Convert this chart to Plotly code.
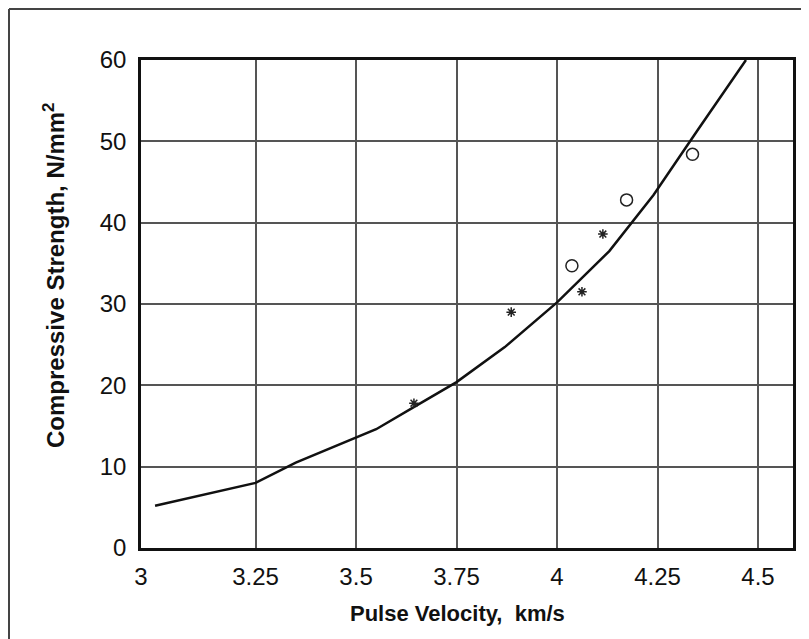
import plotly.graph_objects as go

# Fitted curve
curve_x = [3.0, 3.25, 3.35, 3.55, 3.65, 3.75, 3.87, 4.0, 4.13, 4.24, 4.35, 4.47]
curve_y = [5.2, 8.0, 10.5, 14.6, 17.5, 20.4, 24.7, 30.2, 36.5, 43.4, 51.4, 60.0]

# Data points: asterisks
star_x = [3.644, 3.886, 4.062, 4.114]
star_y = [17.8, 29.0, 31.5, 38.6]

# Data points: open circles
circ_x = [4.037, 4.173, 4.337]
circ_y = [34.7, 42.8, 48.4]

x_tick_vals = [3.25, 3.5, 3.75, 4.0, 4.25, 4.5]
x_tick_text = ["3.25", "3.5", "3.75", "4", "4.25", "4.5"]
x_first_label = "3"
y_tick_vals = [0, 10, 20, 30, 40, 50, 60]

x_range = [2.965, 4.587]
y_range = [0, 60]

W, H = 801, 631
L, R, T, B = 133, 16, 52, 91
PW, PH = W - L - R, H - T - B

fig = go.Figure()
fig.add_trace(go.Scatter(x=curve_x, y=curve_y, mode="lines",
                         line=dict(color="#111111", width=2.5), showlegend=False))
fig.add_trace(go.Scatter(x=star_x, y=star_y, mode="markers",
                         marker=dict(symbol="asterisk-open", size=8, color="#222222",
                                     line=dict(color="#222222", width=1.5)),
                         showlegend=False))
fig.add_trace(go.Scatter(x=circ_x, y=circ_y, mode="markers",
                         marker=dict(symbol="circle-open", size=12, color="#222222",
                                     line=dict(color="#222222", width=1.5)),
                         showlegend=False))

tickfont = dict(family="Liberation Sans, Arial, sans-serif", size=24, color="#111111")

fig.update_xaxes(range=x_range,
                 tickvals=[x_range[0]] + x_tick_vals,
                 ticktext=[x_first_label] + x_tick_text,
                 showgrid=True, gridcolor="#555555", gridwidth=1.5,
                 showline=True, linecolor="#111111", linewidth=2.5, mirror=True,
                 ticks="outside", ticklen=5, tickcolor="rgba(0,0,0,0)",
                 tickfont=tickfont, zeroline=False)
fig.update_yaxes(range=y_range, tickvals=y_tick_vals,
                 showgrid=True, gridcolor="#555555", gridwidth=1.5,
                 showline=True, linecolor="#111111", linewidth=2.5, mirror=True,
                 ticks="outside", ticklen=7, tickcolor="rgba(0,0,0,0)",
                 tickfont=tickfont, zeroline=False)

titlefont_y = dict(family="Liberation Sans, Arial, sans-serif", size=24, color="#111111")
titlefont_x = dict(family="Liberation Sans, Arial, sans-serif", size=22, color="#111111")
fig.add_annotation(text="<b>Compressive Strength, N/mm<sup>2</sup></b>",
                   xref="paper", yref="paper", x=0, y=0.5, xshift=-87, yshift=28,
                   textangle=-90, showarrow=False, font=titlefont_y,
                   xanchor="center", yanchor="middle")
fig.add_annotation(text="<b>Pulse Velocity,&nbsp; km/s</b>",
                   xref="paper", yref="paper", x=0.5, y=0, xshift=-10, yshift=-65,
                   showarrow=False, font=titlefont_x,
                   xanchor="center", yanchor="middle")

# outer frame (top and left edges visible in reference)
fx = (1 - L) / PW
fy = 1 + (T - 1) / PH
fig.add_shape(type="line", xref="paper", yref="paper", x0=fx, x1=1 + R / PW,
              y0=fy, y1=fy, line=dict(color="#444444", width=2))
fig.add_shape(type="line", xref="paper", yref="paper", x0=fx, x1=fx,
              y0=-B / PH, y1=fy, line=dict(color="#444444", width=2))

fig.update_layout(width=W, height=H,
                  margin=dict(l=L, r=R, t=T, b=B),
                  paper_bgcolor="white", plot_bgcolor="white")

fig.write_html("out.html")
